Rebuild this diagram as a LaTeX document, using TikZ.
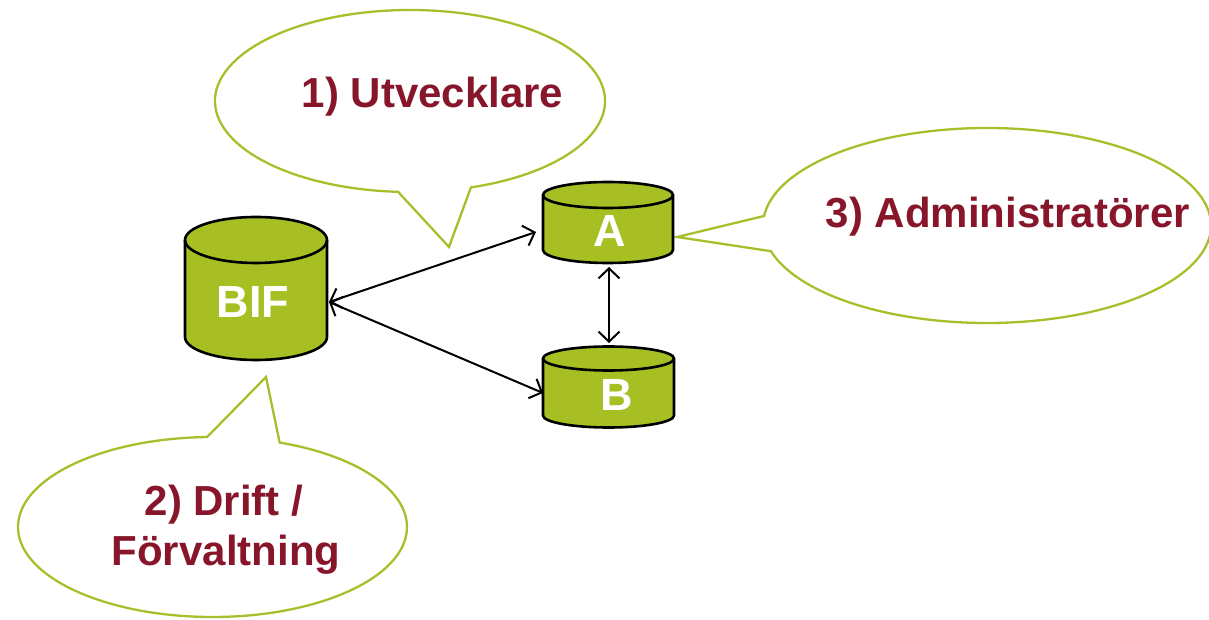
\documentclass[tikz,border=0pt]{standalone}
\usepackage{fontspec}
\setmainfont{Liberation Sans}
\usetikzlibrary{arrows.meta}
\definecolor{dbgreen}{RGB}{168,191,35}
\definecolor{callgreen}{RGB}{166,192,44}
\definecolor{txtred}{RGB}{136,22,42}
\begin{document}
\begin{tikzpicture}[x=1pt,y=1pt,
  cyl/.style={fill=dbgreen, draw=black, line width=2.6pt},
  cylline/.style={draw=black, line width=2.6pt},
  callout/.style={draw=callgreen, fill=white, line width=2.3pt, line join=miter},
  lbl/.style={text=txtred, font=\fontsize{42}{49}\selectfont\bfseries, inner sep=0pt},
  dblbl/.style={text=white, font=\fontsize{45}{50}\selectfont\bfseries, inner sep=0pt},
  barb/.tip={Straight Barb[length=10pt,width=21pt]},
  link/.style={line width=2pt, draw=black, barb-barb}]
\useasboundingbox (0,0) rectangle (1209,619);

% callouts
\path[callout] (410,518) ++(288.2:195 and 91)
  arc[start angle=288.2, end angle=626.5, x radius=195, y radius=91]
  -- (449,372) -- cycle;
\path[callout] (987,393.5) ++(195.3:224 and 97.5)
  arc[start angle=195.3, end angle=534.4, x radius=224, y radius=97.5]
  -- (677,382) -- cycle;
\path[callout] (212.5,92) ++(91.6:194.5 and 90)
  arc[start angle=91.6, end angle=429.8, x radius=194.5, y radius=90]
  -- (266,242) -- cycle;

\node[lbl, anchor=base] (t1) at (432.5,511) {1) Utvecklare};
\node[lbl, anchor=base] (t3) at (1008,391) {3) Administratörer};
\node[lbl, anchor=base] (t2a) at (224,103.3) {2) Drift /};
\node[lbl, anchor=base] (t2b) at (226,54) {Förvaltning};

% cylinders
\path[cyl] (185,379) -- (185,282)
  arc[start angle=180, end angle=360, x radius=71, y radius=23]
  -- (327,379)
  arc[start angle=0, end angle=180, x radius=71, y radius=23] -- cycle;
\draw[cylline] (185,379) arc[start angle=180, end angle=360, x radius=71, y radius=23];

\path[cyl] (543,424) -- (543,369)
  arc[start angle=180, end angle=360, x radius=65, y radius=13]
  -- (673,424)
  arc[start angle=0, end angle=180, x radius=65, y radius=13] -- cycle;
\draw[cylline] (543,424) arc[start angle=180, end angle=360, x radius=65, y radius=13];

\path[cyl] (543,260.5) -- (543,203.5)
  arc[start angle=180, end angle=360, x radius=65.5, y radius=12]
  -- (674,260.5)
  arc[start angle=0, end angle=180, x radius=65.5, y radius=12] -- cycle;
\draw[cylline] (543,260.5) arc[start angle=180, end angle=360, x radius=65.5, y radius=12];

\node[dblbl, anchor=base] (bif) at (253,301) {BIF};
\node[dblbl, anchor=base] (a) at (609.5,372) {A};
\node[dblbl, anchor=base] (b) at (616.7,209) {B};

% connectors
\coordinate (bifR) at (329,317);
\coordinate (aL) at (536,387);
\coordinate (bL) at (543,226);
\coordinate (aB) at (609,352);
\coordinate (bT) at (609,276);
\draw[link] (bifR) -- (aL);
\draw[link] (bifR) -- (bL);
\draw[link] (aB) -- (bT);
\end{tikzpicture}
\end{document}
